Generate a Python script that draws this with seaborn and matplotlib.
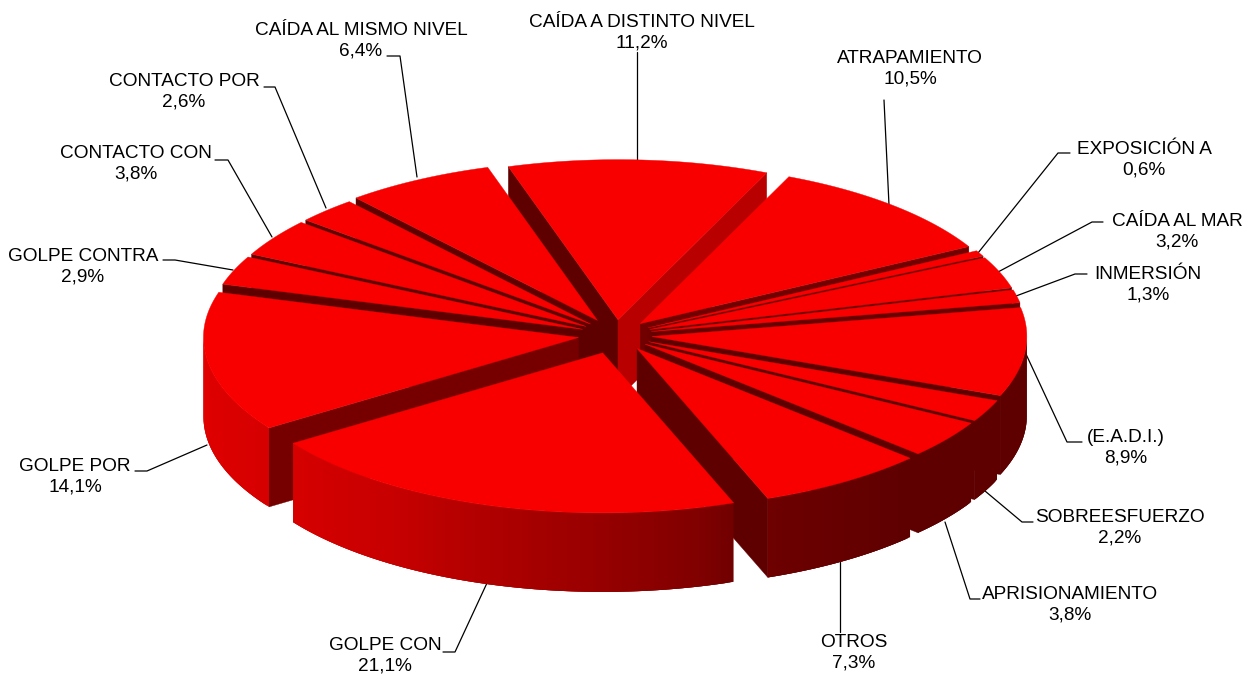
import numpy as np
import matplotlib
matplotlib.use('Agg')
import matplotlib.pyplot as plt
from matplotlib.collections import PolyCollection
import seaborn as sns

# Data, clockwise from the top
categories = ['CAÍDA A DISTINTO NIVEL', 'ATRAPAMIENTO', 'EXPOSICIÓN A', 'CAÍDA AL MAR', 'INMERSIÓN',
              '(E.A.D.I.)', 'SOBREESFUERZO', 'APRISIONAMIENTO', 'OTROS', 'GOLPE CON',
              'GOLPE POR', 'GOLPE CONTRA', 'CONTACTO CON', 'CONTACTO POR', 'CAÍDA AL MISMO NIVEL']
values = [11.2, 10.5, 0.6, 3.2, 1.3, 8.9, 2.2, 3.8, 7.3, 21.1, 14.1, 2.9, 3.8, 2.6, 6.4]

# Pie layout, in image pixels
explode = [36, 36, 36, 36, 36, 36, 36, 36, 38, 44, 38, 36, 36, 36, 39]
label_xy = [(642, 33), (910, 69), (1144, 160), (1177, 232), (1148, 285), (1126, 448), (1120, 528), (1070, 605),
            (854, 653), (385, 656), (75, 477), (83, 267), (136, 164), (184, 92), (361, 41)]
leaders = [[(1070, 153), (1058, 153), (978, 253)],
           [(1103, 222), (1092, 222), (998, 272)],
           [(1087, 274), (1075, 274), (1016, 296)],
           [(1082, 442), (1067, 442), (1025, 352)],
           [(1033, 522), (1022, 522), (985, 491)],
           [(980, 599), (970, 599), (945, 522)],
           [(840, 632), (840, 562)],
           [(443, 652), (455, 652), (487, 583)],
           [(135, 471), (147, 471), (207, 445)],
           [(163, 260), (175, 260), (233, 270)],
           [(215, 160), (228, 160), (272, 237)],
           [(264, 87), (275, 87), (326, 208)],
           [(387, 56), (400, 56), (417, 177)],
           [(637, 52), (637, 162)],
           [(884, 100), (889, 205)]]
cx, cy = 616, 335
rx, ry = 375, 160
depth = 79
start_angle = -17.0

sns.set_theme(style='white')
plt.rcParams['font.family'] = ['Liberation Sans', 'DejaVu Sans']

top_color = '#f90000'
wall_cmap = sns.blend_palette(['#5f0000', '#5f0000', '#6c0000', '#800000', '#a20000', '#c80000', '#d60000', '#e20000'], as_cmap=True)
wall_stops = [90, 135, 158, 165, 188, 215, 235, 270]


def wall_color(a):
    pos = np.interp(a, wall_stops, np.linspace(0, 1, len(wall_stops)))
    return wall_cmap(pos)


def cut_color(a, is_end):
    # shade of a flat cut face, by the direction of its edge
    a = a % 360
    if is_end:
        level = np.interp(a, [20, 60, 100, 180], [0xc0, 0x72, 0x5f, 0x5f])
    else:
        level = np.interp(a, [180, 235, 280, 360], [0x60, 0x76, 0x5f, 0x5f])
    return (level / 255, 0, 0)


def point(a, ox, oy):
    t = np.radians(a)
    return ox + rx * np.sin(t), oy - ry * np.cos(t)


fig, ax = plt.subplots(figsize=(12.49, 6.75), dpi=100)
fig.subplots_adjust(0, 0, 1, 1)
ax.set_xlim(0, 1249)
ax.set_ylim(675, 0)
ax.axis('off')

for line in leaders:
    xs, ys = zip(*line)
    ax.plot(xs, ys, color='black', lw=0.9, zorder=1)

edges = start_angle + np.cumsum([0] + values) / sum(values) * 360
slices = []
for i in range(len(values)):
    a0, a1 = edges[i], edges[i + 1]
    mid = (a0 + a1) / 2
    slices.append((-np.cos(np.radians(mid)), a0, a1, mid, explode[i]))

# back slices first, so the front ones cover them
z = 2
for _, a0, a1, mid, e in sorted(slices, key=lambda s: s[0]):
    t = np.radians(mid)
    ox = cx + e * np.sin(t)
    oy = cy - e * (ry / rx) * np.cos(t)
    arc = np.linspace(a0, a1, 80)
    px, py = point(arc, ox, oy)

    # cut faces, only those turned to the viewer
    for a, is_end in ((a0, False), (a1, True)):
        s = np.sin(np.radians(a))
        if (is_end and s <= 0) or (not is_end and s >= 0):
            continue
        ex, ey = point(a, ox, oy)
        c = cut_color(a, is_end)
        ax.fill([ox, ex, ex, ox], [oy, ey, ey + depth, oy + depth], color=c, lw=0.3, zorder=z)
        z += 1

    # outer wall, only the part that faces the viewer; quads overlap so no seams show
    lo, hi = max(a0, 90), min(a1, 270)
    if hi > lo:
        wa = np.linspace(lo, hi, max(int(hi - lo), 1) * 2 + 2)
        wx, wy = point(wa, ox, oy)
        n = len(wa)
        quads = [[(wx[j], wy[j]), (wx[min(j + 3, n - 1)], wy[min(j + 3, n - 1)]),
                  (wx[min(j + 3, n - 1)], wy[min(j + 3, n - 1)] + depth), (wx[j], wy[j] + depth)]
                 for j in range(n - 1)]
        cols = [wall_color((wa[j] + wa[j + 1]) / 2) for j in range(n - 1)]
        ax.add_collection(PolyCollection(quads, facecolors=cols, edgecolors='none', zorder=z))
        z += 1

    ax.fill(np.r_[ox, px], np.r_[oy, py], color=top_color, lw=0.3, zorder=z)
    z += 1

for name, v, (x, y) in zip(categories, values, label_xy):
    ax.text(x, y, f"{name}\n{str(v).replace('.', ',')}%", ha='center', va='center',
            fontsize=13.7, color='black', linespacing=1.28, zorder=z)

plt.savefig('out.png', dpi=100)
plt.close()
